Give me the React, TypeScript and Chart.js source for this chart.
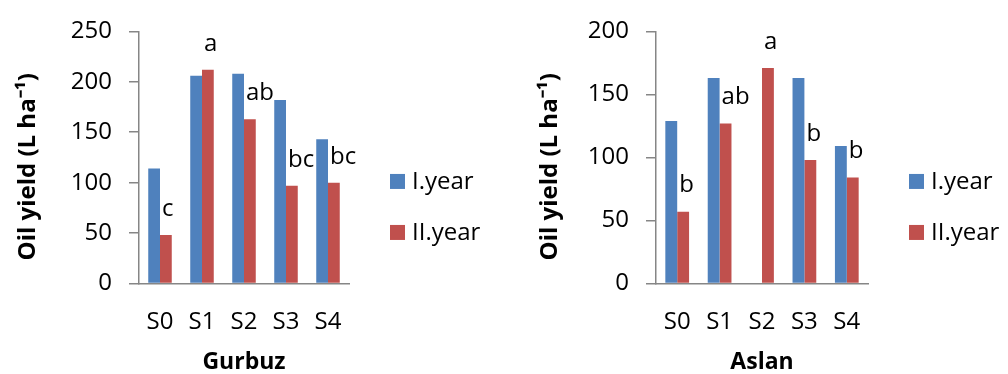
import React, { useEffect, useRef } from "react";
import { Chart, registerables } from "chart.js";

Chart.register(...registerables);

const categories = ["S0", "S1", "S2", "S3", "S4"];
const seriesLabels = ["I.year", "II.year"];

const gurbuzYear1 = [114, 206, 208, 182, 143];
const gurbuzYear2 = [48, 212, 163, 97, 100];
const gurbuzLetters = ["c", "a", "ab", "bc", "bc"];
const gurbuzTicks = [0, 50, 100, 150, 200, 250];

const aslanYear1 = [129, 163, null, 163, 109];
const aslanYear2 = [57, 127, 171, 98, 84];
const aslanLetters = ["b", "ab", "a", "b", "b"];
const aslanTicks = [0, 50, 100, 150, 200];

// trailing spaces nudge the rotated title slightly downward, as in the reference
const yTitle = "Oil yield (L ha\u207B\u00B9)\u00A0\u00A0\u00A0";

const FONT = '"Open Sans", sans-serif';
const BLUE = "#4F81BD";
const RED = "#C0504D";
const AXIS = "#868686";

const annotatePlugin = {
  id: "annotate",
  afterDatasetsDraw(chart: any, _args: any, opts: any) {
    const ctx = chart.ctx;
    const meta = chart.getDatasetMeta(1);
    ctx.save();
    ctx.font = `24px ${FONT}`;
    ctx.fillStyle = "#000";
    ctx.textAlign = "left";
    ctx.textBaseline = "middle";
    (opts.letters || []).forEach((t: string, i: number) => {
      const el: any = meta.data[i];
      if (!el) return;
      ctx.fillText(t, el.x - el.width / 2 + 2, el.y - 26);
    });
    const area = chart.chartArea;
    const x0 = area.right + 41;
    const midY = (area.top + area.bottom) / 2;
    chart.data.datasets.forEach((ds: any, i: number) => {
      const cy = midY + 24 + i * 51;
      ctx.fillStyle = ds.backgroundColor;
      ctx.fillRect(x0, cy - 7.5, 15, 15);
      ctx.fillStyle = "#000";
      ctx.fillText(ds.label, x0 + 22, cy + 1);
    });
    ctx.restore();
  },
};

type PanelProps = {
  title: string;
  year1: (number | null)[];
  year2: (number | null)[];
  letters: string[];
  ticks: number[];
  axisWidth: number;
  yTitlePad: number;
  rightPad: number;
};

function Panel(props: PanelProps) {
  const ref = useRef<HTMLCanvasElement | null>(null);
  useEffect(() => {
    if (!ref.current) return;
    const { title, year1, year2, letters, ticks, axisWidth, yTitlePad, rightPad } = props;
    const chart = new Chart(ref.current, {
      type: "bar",
      data: {
        labels: categories,
        datasets: [
          { label: seriesLabels[0], data: year1, backgroundColor: BLUE, borderWidth: 0 },
          { label: seriesLabels[1], data: year2, backgroundColor: RED, borderWidth: 0 },
        ],
      },
      plugins: [annotatePlugin],
      options: {
        animation: false,
        responsive: false,
        devicePixelRatio: 1,
        categoryPercentage: 0.56,
        barPercentage: 1,
        layout: { padding: { top: 12, right: rightPad, left: 0, bottom: 0 } },
        plugins: {
          legend: { display: false },
          tooltip: { enabled: false },
          annotate: { letters },
        } as any,
        scales: {
          x: {
            grid: { display: false, drawTicks: false },
            border: { display: true, color: AXIS, width: 1.5 },
            ticks: { color: "#000", font: { family: FONT, size: 24 }, padding: 24 },
            title: {
              display: true,
              text: title,
              color: "#000",
              font: { family: FONT, size: 23, weight: "bold", lineHeight: 1 },
              padding: { top: 0, bottom: 0 },
            },
            afterFit: (scale: any) => {
              scale.height = 90.5;
            },
          },
          y: {
            min: ticks[0],
            max: ticks[ticks.length - 1],
            ticks: {
              stepSize: ticks[1] - ticks[0],
              color: "#000",
              font: { family: FONT, size: 24 },
              padding: 17,
            },
            grid: { display: true, drawOnChartArea: false, drawTicks: true, tickLength: 10, color: AXIS, lineWidth: 1.5 },
            border: { display: true, color: AXIS, width: 1.5 },
            title: {
              display: true,
              text: yTitle,
              color: "#000",
              font: { family: FONT, size: 24, weight: "bold", lineHeight: 1 },
              padding: { top: yTitlePad, bottom: 0 },
            },
            afterFit: (scale: any) => {
              scale.width = axisWidth;
            },
          },
        },
      } as any,
    });
    return () => chart.destroy();
  }, []);
  return <canvas ref={ref} width={504} height={374} style={{ display: "block", width: 504, height: 374 }} />;
}

export default function App() {
  return (
    <div style={{ position: "absolute", left: 0, top: 0, width: 1008, height: 374, display: "flex", background: "#fff" }}>
      <Panel
        title="Gurbuz"
        year1={gurbuzYear1}
        year2={gurbuzYear2}
        letters={gurbuzLetters}
        ticks={gurbuzTicks}
        axisWidth={139}
        yTitlePad={16}
        rightPad={155}
      />
      <Panel
        title="Aslan"
        year1={aslanYear1}
        year2={aslanYear2}
        letters={aslanLetters}
        ticks={aslanTicks}
        axisWidth={152}
        yTitlePad={34}
        rightPad={140}
      />
    </div>
  );
}
